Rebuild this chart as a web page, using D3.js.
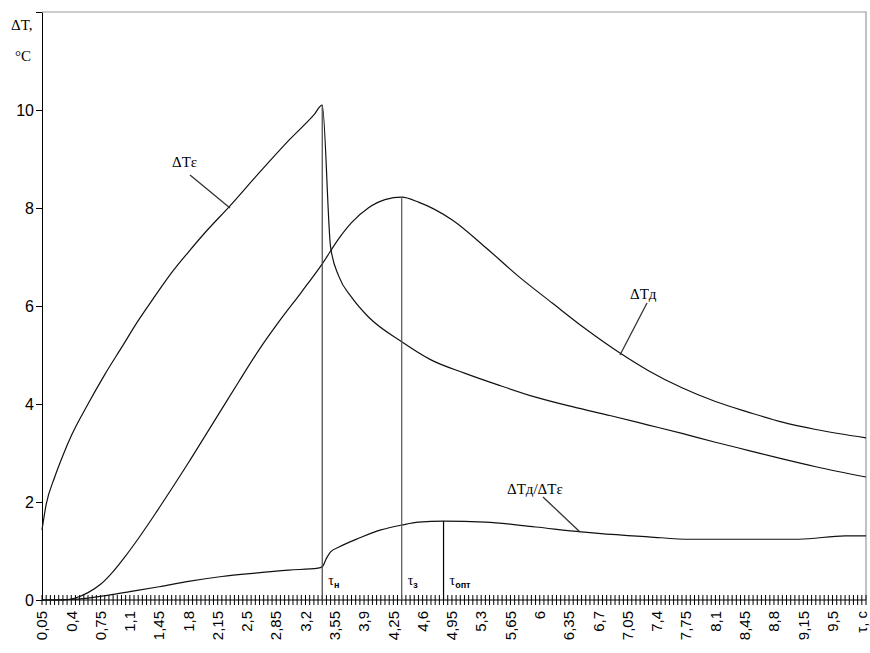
<!DOCTYPE html>
<html><head><meta charset="utf-8">
<script src="https://cdn.jsdelivr.net/npm/d3@7"></script>
<style>
body{margin:0;background:#fff}
.sans{font-family:"Liberation Sans Narrow","Liberation Sans",Arial,sans-serif}
.serif{font-family:"Liberation Serif","Times New Roman",serif}
</style></head><body>
<svg id="c" width="870" height="653"></svg>
<script>
// ---- data ----
const xTickLabels = ["0,05","0,4","0,75","1,1","1,45","1,8","2,15","2,5","2,85","3,2","3,55","3,9","4,25","4,6","4,95","5,3","5,65","6","6,35","6,7","7,05","7,4","7,75","8,1","8,45","8,8","9,15","9,5","τ, c"];
const yTicks = [0,2,4,6,8,10,12];

// ΔTε
const tE = [0.05,0.1,0.2,0.3,0.4,0.6,0.8,1.0,1.2,1.4,1.6,1.8,2.0,2.3,2.6,3.0,3.3,3.4,3.5,3.6,3.75,3.95,4.35,4.7,5.1,5.5,5.95,6.4,6.85,7.3,7.7,8.1,8.5,8.9,9.3,9.9];
const vE = [1.43,1.95,2.5,2.95,3.35,4.0,4.6,5.15,5.7,6.2,6.68,7.1,7.5,8.05,8.63,9.38,9.9,10.1,7.2,6.6,6.18,5.78,5.27,4.9,4.63,4.39,4.14,3.94,3.76,3.57,3.4,3.22,3.05,2.88,2.72,2.51];

// ΔTд
const tD = [0.05,0.3,0.45,0.6,0.75,0.9,1.05,1.2,1.4,1.6,1.8,2.0,2.2,2.4,2.65,2.9,3.15,3.4,3.6,3.75,3.95,4.15,4.35,4.55,4.95,5.35,5.75,6.15,6.55,6.95,7.3,7.7,8.1,8.5,8.9,9.3,9.9];
const vD = [0,0,0.04,0.15,0.32,0.58,0.9,1.25,1.75,2.27,2.8,3.35,3.9,4.45,5.12,5.72,6.28,6.86,7.38,7.7,8.0,8.17,8.22,8.12,7.76,7.2,6.6,6.06,5.53,5.05,4.68,4.33,4.05,3.83,3.63,3.48,3.31];

// ΔTд/ΔTε
const tR = [0.05,0.35,0.6,0.85,1.1,1.45,1.8,2.2,2.6,3.0,3.35,3.4,3.45,3.5,3.6,3.85,4.1,4.35,4.55,4.85,5.35,5.95,6.5,6.7,7.3,7.8,9.1,9.65,9.9];
const vR = [0,0.01,0.04,0.1,0.17,0.27,0.38,0.48,0.55,0.61,0.65,0.68,0.85,0.98,1.08,1.27,1.43,1.53,1.59,1.61,1.59,1.49,1.39,1.36,1.29,1.24,1.24,1.31,1.31];

// vertical markers
const markerT = [3.4, 4.35, 4.85];
const markerTop = [10.1, 8.22, 1.61];
const markerMain = ["τ","τ","τ"];
const markerSub = ["н","з","опт"];
const markerColor = ["#444","#555","#000"];

// series labels
const seriesNames = ["ΔTε","ΔTд","ΔTд/ΔTε"];

// ---- drawing ----
const svg = d3.select("#c");
const idx = t => Math.round(t/0.05);
const cats = d3.range(1, 199);               // category index, τ = i·0.05 (0,05 … 9,9)
const x = d3.scalePoint().domain(cats).range([42, 866]);
const y = d3.scaleLinear().domain([0, 12]).range([600, 12]);

// frame (top / right)
svg.append("path").attr("d", `M42,12H866V600`).attr("fill","none").attr("stroke","#9a9a9a").attr("stroke-width",1.2);

// y axis
const ya = svg.append("g").attr("class","sans").attr("transform","translate(42,0)")
  .call(d3.axisLeft(y).tickValues(yTicks).tickSize(6).tickSizeOuter(0).tickPadding(2)
    .tickFormat(d => d === 12 ? "" : d));
ya.selectAll("text").attr("font-size",16).attr("fill","#000").attr("font-family",'"Liberation Sans Narrow","Liberation Sans",Arial,sans-serif');
ya.selectAll("line,path").attr("stroke","#000");

// y title
svg.append("text").attr("class","serif").attr("x",11).attr("y",30).attr("font-size",15).text("ΔT,");
svg.append("text").attr("class","serif").attr("x",15).attr("y",61).attr("font-size",15).text("°C");

// x axis line + cross tick marks
svg.append("line").attr("x1",42).attr("x2",866).attr("y1",600).attr("y2",600).attr("stroke","#000");
svg.append("g").selectAll("line").data(cats).join("line")
  .attr("x1", d => x(d)).attr("x2", d => x(d)).attr("y1",595).attr("y2",605)
  .attr("stroke","#000").attr("stroke-width",1);

// x tick labels (every 7th category)
svg.append("g").attr("class","sans").selectAll("text").data(xTickLabels).join("text")
  .attr("transform", (d,k) => `translate(${x(1 + 7*k)},611) rotate(-90)`)
  .attr("text-anchor","end").attr("dy","0.35em").attr("font-size",15).text(d => d);

// lines
const line = d3.line().x(d => x(idx(d[0]))).y(d => y(d[1])).curve(d3.curveMonotoneX);
[[tE,vE],[tD,vD],[tR,vR]].forEach(([ts,vs]) => {
  svg.append("path").datum(ts.map((t,i)=>[t,vs[i]])).attr("d", line)
    .attr("fill","none").attr("stroke","#111").attr("stroke-width",1.2);
});

// vertical markers
markerT.forEach((t,i) => {
  svg.append("line").attr("x1", x(idx(t))).attr("x2", x(idx(t)))
    .attr("y1", y(0)).attr("y2", y(markerTop[i]))
    .attr("stroke", markerColor[i]).attr("stroke-width",1.2);
  const tx = svg.append("text").attr("class","serif").attr("x", x(idx(t)) + 6).attr("y", 585).attr("font-size",14);
  tx.append("tspan").text(markerMain[i]);
  tx.append("tspan").attr("dy",3).attr("font-size",9).attr("font-family","Liberation Sans, Arial, sans-serif").attr("font-weight","bold").text(markerSub[i]);
});

// series labels with leaders
const labelPos = [[172,167],[630,299],[507,494]];
const leaders = [[[190,175],[230,208]],[[647,303],[620,355]],[[543,497],[580,532]]];
seriesNames.forEach((n,i) => {
  svg.append("text").attr("class","serif").attr("x",labelPos[i][0]).attr("y",labelPos[i][1]).attr("font-size",15).text(n);
  svg.append("line").attr("x1",leaders[i][0][0]).attr("y1",leaders[i][0][1])
    .attr("x2",leaders[i][1][0]).attr("y2",leaders[i][1][1]).attr("stroke","#333").attr("stroke-width",1.3);
});
</script></body></html>
